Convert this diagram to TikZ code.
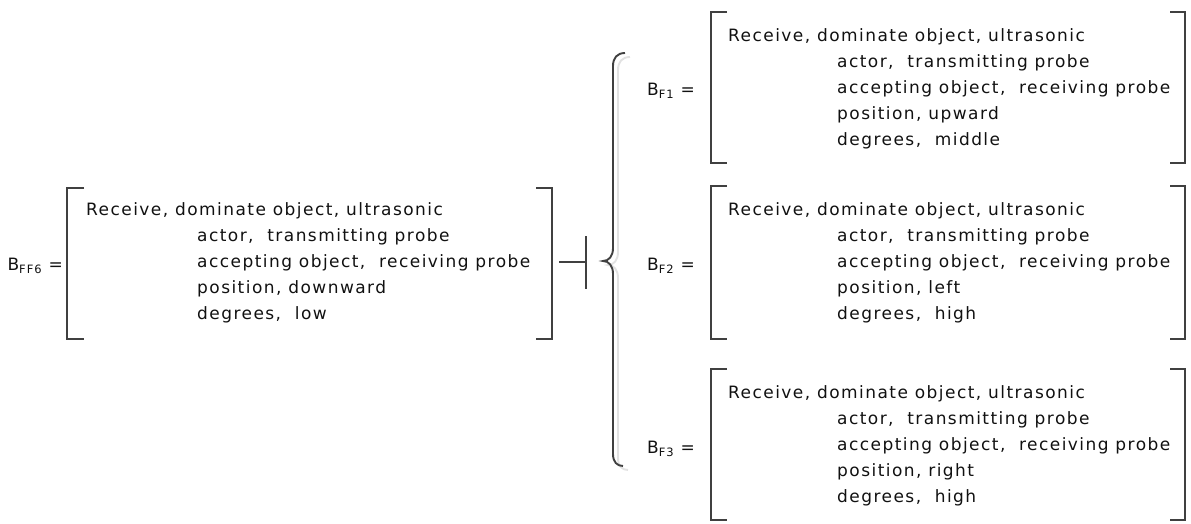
\documentclass[tikz,border=0pt]{standalone}
\usepackage{fontspec}
\setmainfont{DejaVu Sans}[LetterSpace=8.5]
\newcommand\mysub[1]{\raisebox{-3pt}{\fontsize{11.5}{11.5}\selectfont #1}}
\definecolor{lncol}{HTML}{404040}
\definecolor{txcol}{HTML}{111111}
\definecolor{shcol}{HTML}{E2E2E2}
\tikzset{
  brk/.style={draw=lncol, line width=1.9pt},
  txt/.style={anchor=base west, inner sep=0pt, text=txcol, font=\fontsize{17}{20}\selectfont},
  lbl/.style={anchor=base east, inner sep=0pt, text=txcol, font=\fontsize{17}{20}\selectfont},
}
\begin{document}
\begin{tikzpicture}[x=1pt,y=-1pt]
\useasboundingbox (0,0) rectangle (1191,524);
\def\bs{26}
% ---------- left block B_FF6 ----------
\draw[brk] (84,188) -- (67,188) -- (67,339) -- (84,339);
\draw[brk] (536,188) -- (552,188) -- (552,339) -- (536,339);
\node[lbl] (lff) at (63,270) {B\mysub{FF6} =};
\node[txt] (f1) at (86,215) {Receive, dominate object, ultrasonic};
\node[txt] (f2) at (197,215+\bs) {actor,\ \ transmitting probe};
\node[txt] (f3) at (197,215+2*\bs) {accepting object,\ \ receiving probe};
\node[txt] (f4) at (197,215+3*\bs) {position, downward};
\node[txt] (f5) at (197,215+4*\bs) {degrees,\ \ low};
% ---------- connector symbol ----------
\coordinate (h1) at (559,262);
\coordinate (h2) at (586,262);
\coordinate (v1) at (586,236);
\coordinate (v2) at (586,289);
\draw[brk] (h1) -- (h2);
\draw[brk] (v1) -- (v2);
% ---------- brace ----------
\draw[shcol, line width=1.9pt, shift={(5,4)}]
  (625,53) .. controls (617,53) and (613,58) .. (613,66) -- (613,248)
  .. controls (613,256) and (609,261) .. (603,261)
  .. controls (609,261) and (613,266) .. (613,274) -- (613,454)
  .. controls (613,462) and (617,466) .. (623,466);
\draw[lncol, line width=1.9pt]
  (625,53) .. controls (617,53) and (613,58) .. (613,66) -- (613,248)
  .. controls (613,256) and (609,261) .. (603,261)
  .. controls (609,261) and (613,266) .. (613,274) -- (613,454)
  .. controls (613,462) and (617,466) .. (623,466);
% ---------- B_F1 ----------
\draw[brk] (727,12) -- (711,12) -- (711,163) -- (727,163);
\draw[brk] (1170,12) -- (1185,12) -- (1185,163) -- (1170,163);
\node[lbl] (l1) at (695,96) {B\mysub{F1} =};
\node[txt] (a1) at (728,42) {Receive, dominate object, ultrasonic};
\node[txt] (a2) at (837,42+\bs) {actor,\ \ transmitting probe};
\node[txt] (a3) at (837,42+2*\bs) {accepting object,\ \ receiving probe};
\node[txt] (a4) at (837,42+3*\bs) {position, upward};
\node[txt] (a5) at (837,42+4*\bs) {degrees,\ \ middle};
% ---------- B_F2 ----------
\draw[brk] (727,186) -- (711,186) -- (711,339) -- (727,339);
\draw[brk] (1170,186) -- (1185,186) -- (1185,339) -- (1170,339);
\node[lbl] (l2) at (695,270) {B\mysub{F2} =};
\node[txt] (b1) at (728,215) {Receive, dominate object, ultrasonic};
\node[txt] (b2) at (837,215+\bs) {actor,\ \ transmitting probe};
\node[txt] (b3) at (837,215+2*\bs) {accepting object,\ \ receiving probe};
\node[txt] (b4) at (837,215+3*\bs) {position, left};
\node[txt] (b5) at (837,215+4*\bs) {degrees,\ \ high};
% ---------- B_F3 ----------
\draw[brk] (727,369) -- (711,369) -- (711,520) -- (727,520);
\draw[brk] (1170,369) -- (1185,369) -- (1185,520) -- (1170,520);
\node[lbl] (l3) at (695,453) {B\mysub{F3} =};
\node[txt] (c1) at (728,398) {Receive, dominate object, ultrasonic};
\node[txt] (c2) at (837,398+\bs) {actor,\ \ transmitting probe};
\node[txt] (c3) at (837,398+2*\bs) {accepting object,\ \ receiving probe};
\node[txt] (c4) at (837,398+3*\bs) {position, right};
\node[txt] (c5) at (837,398+4*\bs) {degrees,\ \ high};
\end{tikzpicture}
\end{document}
